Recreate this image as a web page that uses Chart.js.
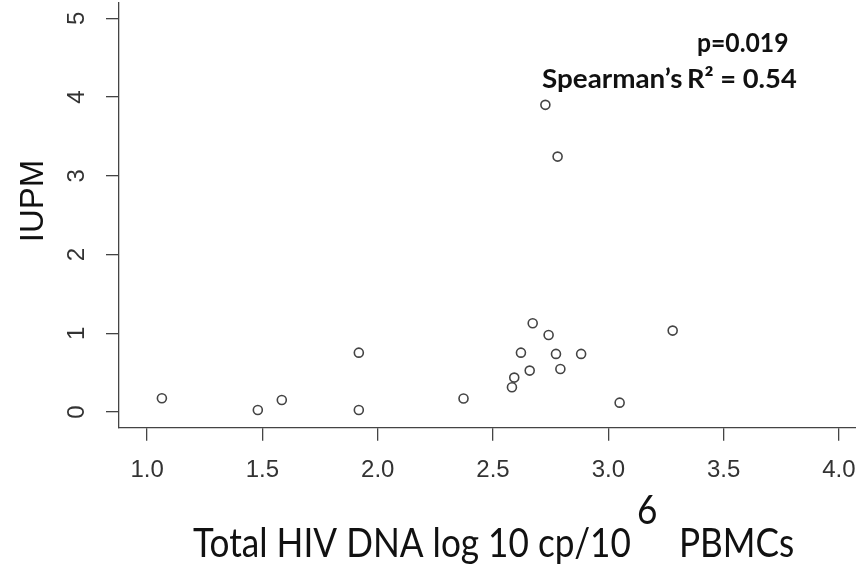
<!DOCTYPE html>
<html>
<head>
<meta charset="utf-8">
<script src="https://cdn.jsdelivr.net/npm/chart.js@4/dist/chart.umd.min.js"></script>
<style>
  html, body { margin: 0; padding: 0; background: #fff; overflow: hidden; }
  #wrap { width: 856px; height: 571px; }
</style>
</head>
<body>
<div id="wrap"><canvas id="chart" width="856" height="571"></canvas></div>
<script>
// total HIV DNA (log10 copies per 10^6 PBMCs) against IUPM, one point per participant
var hiv_dna = [1.064, 1.480, 1.584, 1.918, 1.918, 2.372, 2.582, 2.592, 2.621, 2.659, 2.672, 2.741, 2.727, 2.780, 2.773, 2.792, 2.882, 3.049, 3.279];
var iupm    = [0.174, 0.025, 0.152, 0.753, 0.025, 0.171, 0.314, 0.436, 0.753, 0.525, 1.127, 0.978, 3.900, 3.243, 0.737, 0.546, 0.737, 0.118, 1.033];

var x_ticks = [1.0, 1.5, 2.0, 2.5, 3.0, 3.5, 4.0];
var y_ticks = [0, 1, 2, 3, 4, 5];

var x_title = ['Total HIV DNA log 10 cp/10', '6', 'PBMCs'];
var y_title = 'IUPM';
var stats_text = ['p=0.019', 'Spearman\u2019s', 'R\u00b2 = 0.54'];

var ctx = document.getElementById('chart');

var points = [];
for (let i = 0; i < hiv_dna.length; i++) {
    points.push({x: hiv_dna[i], y: iupm[i]});
}

// draw text squeezed sideways (the original uses a narrower font)
function narrow_text(c, txt, left, base, sx) {
    c.save();
    c.translate(left, base);
    c.scale(sx, 1);
    c.fillText(txt, 0, 0);
    c.restore();
    return c.measureText(txt).width * sx;
}

// titles and the stats note are drawn by hand (superscript in the x title)
var text_plugin = {
    id: 'text_plugin',
    afterDraw: function(chart) {
        let c = chart.ctx;
        c.save();
        c.fillStyle = '#111';

        // y title, rotated like R does it
        c.font = '33px "Liberation Sans"';
        c.textAlign = 'center';
        c.textBaseline = 'middle';
        c.save();
        c.translate(34, 201);
        c.rotate(-Math.PI / 2);
        c.fillText(y_title, 0, 0);
        c.restore();

        // x title with superscript 6
        c.textAlign = 'left';
        c.textBaseline = 'alphabetic';
        c.font = '40px Lato';
        let w = narrow_text(c, x_title[0], 193, 557, 0.88);
        narrow_text(c, x_title[1], 193 + w + 6, 524, 0.88);
        narrow_text(c, x_title[2], 193 + w + 48, 557, 0.88);

        // stats
        c.font = 'bold 26px Lato';
        narrow_text(c, stats_text[0], 697, 52, 0.95);
        narrow_text(c, stats_text[1], 542, 88, 1.07);
        narrow_text(c, stats_text[2], 687, 88, 1.05);
        c.restore();
    }
};

var chart = new Chart(ctx, {
    type: 'scatter',
    data: {
        datasets: [{
            data: points,
            pointStyle: 'circle',
            pointRadius: 4.5,
            pointBorderWidth: 1.6,
            pointBorderColor: '#444',
            pointBackgroundColor: 'rgba(0,0,0,0)'
        }]
    },
    options: {
        responsive: false,
        animation: false,
        layout: { autoPadding: false, padding: { left: 0, top: 2.5, right: 0, bottom: 0 } },
        plugins: { legend: { display: false }, tooltip: { enabled: false } },
        scales: {
            x: {
                type: 'linear',
                min: 0.878,
                max: 4.074,
                afterBuildTicks: function(s) { s.ticks = x_ticks.map(v => ({value: v})); },
                afterFit: function(s) {
                    s.height = 143.3;
                    s.paddingLeft = 0;
                    s.paddingRight = 0;
                },
                border: { display: true, color: '#444', width: 1.3 },
                grid: { drawOnChartArea: false, drawTicks: true, tickLength: 13, color: '#444', lineWidth: 1.3 },
                ticks: {
                    color: '#333',
                    padding: 15,
                    maxRotation: 0,
                    font: { family: '"Liberation Sans"', size: 24 },
                    callback: v => v.toFixed(1)
                }
            },
            y: {
                type: 'linear',
                min: -0.2,
                max: 5.2,
                afterBuildTicks: function(s) { s.ticks = y_ticks.map(v => ({value: v})); },
                afterFit: function(s) {
                    s.width = 119;
                    s.paddingTop = 0;
                    s.paddingBottom = 0;
                },
                border: { display: true, color: '#444', width: 1.3 },
                grid: { drawOnChartArea: false, drawTicks: true, tickLength: 13, color: '#444', lineWidth: 1.3 },
                ticks: {
                    color: '#333',
                    padding: 22,
                    minRotation: 90,
                    maxRotation: 90,
                    crossAlign: 'center',
                    font: { family: '"Liberation Sans"', size: 24 },
                    callback: v => String(v)
                }
            }
        }
    },
    plugins: [text_plugin]
});
</script>
</body>
</html>
